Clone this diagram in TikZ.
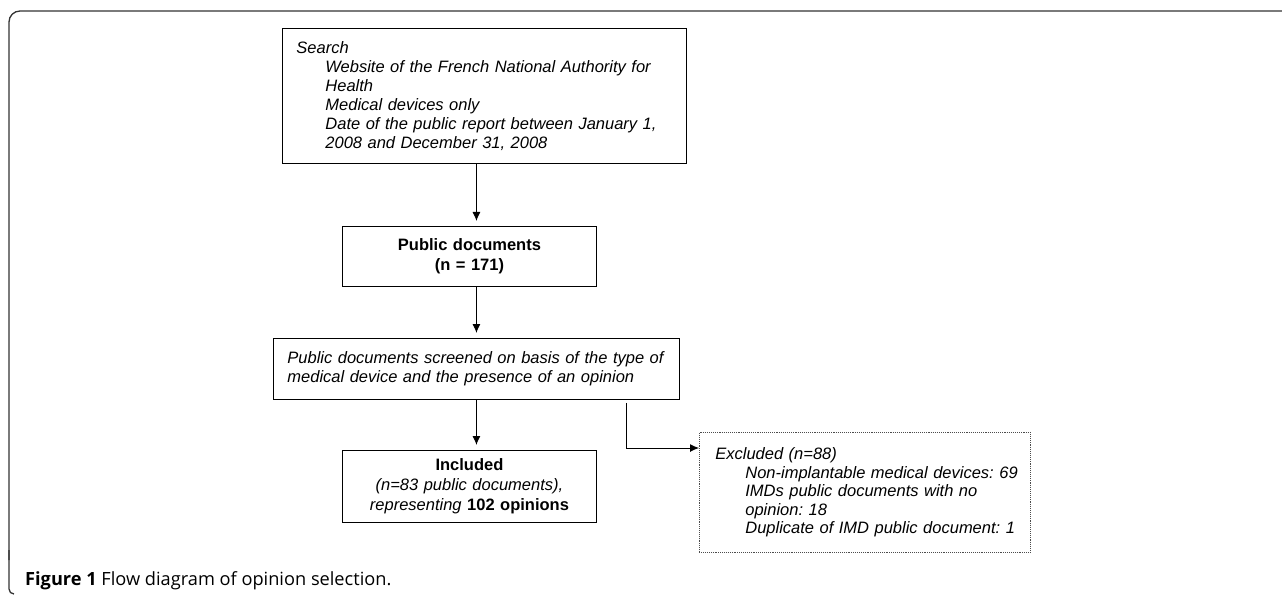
\documentclass[tikz,border=0pt]{standalone}
\usepackage{fontspec}
\setmainfont{Liberation Sans}
\newfontfamily\captionfont{Open Sans}
\usetikzlibrary{positioning,arrows.meta}
\frenchspacing

\begin{document}
\begin{tikzpicture}[
	x=1pt,y=-1pt,
	stepbox/.style={
		draw,
		line width=0.9pt,
		inner xsep=14pt,
		inner ysep=0pt,
		font=\fontsize{16.5}{19}\selectfont,
	},
	dotbox/.style={
		stepbox,
		densely dotted,
		line width=0.7pt,
		draw=black!70,
		inner xsep=16pt,
		font=\fontsize{16.5}{18.4}\selectfont,
	},
	flow/.style={
		->,
		line width=0.9pt,
		shorten >=5pt
	},
	>={Latex[length=9pt,width=8pt]}
	]
	\useasboundingbox (0,0) rectangle (1282,596);
	% frame of the figure
	\draw[line width=1.3pt,black!80,rounded corners=11pt] (1282,11) -- (9,11) -- (9,560);
	\draw[line width=1.3pt,black!80,rounded corners=5pt] (9,550) -- (9,594) -- (14,594);
	\node[stepbox, anchor=north west, minimum height=135pt, text width=376pt, align=left] (search) at (282,28)
	{\itshape Search\\
		\hspace*{29pt}Website of the French National Authority for\\
		\hspace*{29pt}Health\\
		\hspace*{29pt}Medical devices only\\
		\hspace*{29pt}Date of the public report between January 1,\\
		\hspace*{29pt}2008 and December 31, 2008};
	\node[stepbox, anchor=north west, minimum height=60pt, text width=226pt, align=center, font=\fontsize{16.5}{20}\selectfont\bfseries] (pubdocs) at (342,226)
	{Public documents\\(n = 171)};
	\node[stepbox, anchor=north west, minimum height=61pt, text width=378pt, align=left] (screen) at (273,338)
	{\itshape Public documents screened on basis of the type of\\
		medical device and the presence of an opinion};
	\node[stepbox, anchor=north west, minimum height=72pt, text width=226pt, align=center, font=\fontsize{16.5}{20}\selectfont] (incl) at (342,450)
	{\textbf{Included}\\
		\textit{(n=83 public documents),}\\
		\textit{representing} \textbf{102 opinions}};
	\node[dotbox, anchor=north west, minimum height=120pt, text width=299pt, align=left] (excl) at (699,432)
	{\itshape \mbox{Excluded (n=88)}\\
		\hspace*{30pt}\mbox{Non-implantable medical devices: 69}\\
		\hspace*{30pt}\mbox{IMDs public documents with no}\\
		\hspace*{30pt}\mbox{opinion: 18}\\
		\hspace*{30pt}\mbox{Duplicate of IMD public document: 1}};
	\coordinate (branch) at ([xshift=-53pt,yshift=-3pt]screen.south east);
	\draw[flow] (search.south -| screen.north) -- (pubdocs.north -| screen.north);
	\draw[flow] (pubdocs.south -| screen.north) -- (screen.north);
	\draw[flow] (screen.south) -- (incl.north -| screen.south);
	\draw[->,line width=0.9pt] (branch) |- ([yshift=-16pt]excl.north west);
	\node[anchor=base west, inner sep=0pt, font=\captionfont\fontsize{18.2}{20}\selectfont] (caption) at (25,585)
	{\textbf{Figure 1} Flow diagram of opinion selection.};
\end{tikzpicture}
\end{document}
